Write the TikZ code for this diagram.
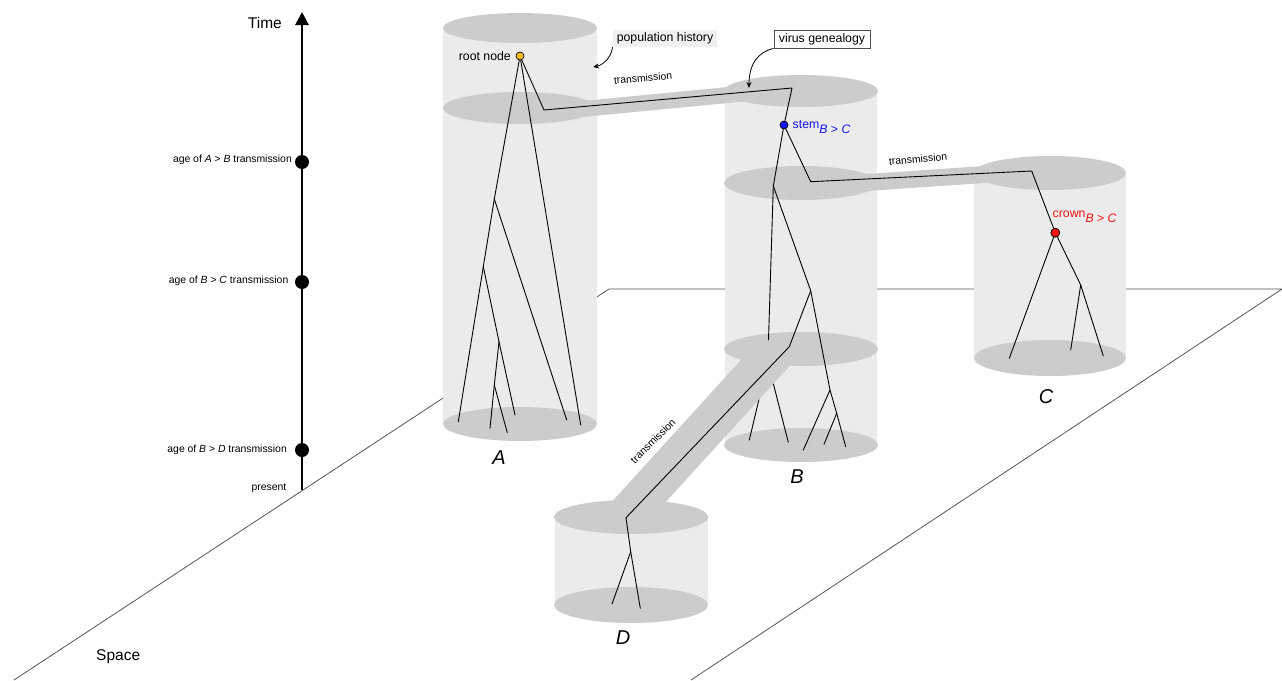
\documentclass[tikz,border=0pt]{standalone}
\usepackage{fontspec}
\setmainfont{Liberation Sans}
\usetikzlibrary{arrows.meta}
\definecolor{bodycol}{HTML}{EBEBEB}
\definecolor{disccol}{HTML}{CCCCCC}
\definecolor{floorcol}{HTML}{555555}
\definecolor{stemblue}{HTML}{1414F0}
\definecolor{crownred}{HTML}{F01414}
\definecolor{rootyellow}{HTML}{F2C218}
\definecolor{boxfill}{HTML}{F0F0F0}
\begin{document}
\begin{tikzpicture}[x=1pt,y=-1pt,
  floorline/.style={draw=floorcol, line width=0.8pt},
  cylbody/.style={fill=bodycol},
  discfill/.style={fill=disccol},
  bandstyle/.style={draw=disccol, line cap=butt},
  branch/.style={draw=black, line width=0.9pt, line cap=round, line join=round},
  timedot/.style={circle, fill=black, inner sep=0pt, minimum size=14pt},
  smalltext/.style={font=\fontsize{10.4}{12}\selectfont, inner sep=0pt},
  midtext/.style={font=\fontsize{12.3}{14}\selectfont},
  bigtext/.style={font=\fontsize{15.5}{18}\selectfont, inner sep=0pt},
  poplabel/.style={font=\fontsize{20}{24}\selectfont\itshape, inner sep=0pt},
  treedot/.style={circle, draw=black, line width=0.7pt, inner sep=0pt, minimum size=8pt},
  callout/.style={-{Stealth[length=6pt,width=5pt]}, line width=0.8pt},
]
\useasboundingbox (0,0) rectangle (1282,680);

% floor plane
\coordinate (fTL) at (609,289);
\coordinate (fTR) at (1282,289);
\coordinate (fBL) at (14,680);
\coordinate (fBR) at (691,680);
\draw[floorline] (fBL) -- (fTL) -- (fTR) -- (fBR);

% time axis
\coordinate (tPresent) at (302,490);
\coordinate (tTop) at (302,12);
\draw[line width=2.8pt, -{Triangle[length=13pt,width=13pt]}] (tPresent) -- (tTop);
\node[timedot] (dAB) at (302,162) {};
\node[timedot] (dBC) at (302,282) {};
\node[timedot] (dBD) at (302,450) {};
\node[bigtext, anchor=east] (timelbl) at (282,23) {Time};
\node[smalltext, anchor=east] (lAB) at (292,160) {age of \textit{A} > \textit{B} transmission};
\node[smalltext, anchor=east] (lBC) at (288.5,281) {age of \textit{B} > \textit{C} transmission};
\node[smalltext, anchor=east] (lBD) at (287,450) {age of \textit{B} > \textit{D} transmission};
\node[smalltext, anchor=east] (lPres) at (286.5,488.5) {present};
\node[bigtext, anchor=west] (spacelbl) at (96,657) {Space};

% cylinder A
\fill[cylbody] (443,28) rectangle (597,424);
\fill[discfill] (520,28) ellipse [x radius=77, y radius=15];
\fill[discfill] (520,108) ellipse [x radius=77, y radius=16];
\fill[discfill] (520,424) ellipse [x radius=77, y radius=17];
% cylinder B
\fill[cylbody] (725,91) rectangle (877,445);
\fill[discfill] (801,91) ellipse [x radius=77, y radius=16];
\fill[discfill] (801,183) ellipse [x radius=77, y radius=17];
\fill[discfill] (801,349) ellipse [x radius=77, y radius=17];
\fill[discfill] (801,445) ellipse [x radius=77, y radius=17];
% cylinder C
\fill[cylbody] (974,173) rectangle (1126,358);
\fill[discfill] (1050,173) ellipse [x radius=76, y radius=17];
\fill[discfill] (1050,358) ellipse [x radius=76, y radius=18];

% transmission bands A>B and B>C
\coordinate (abS) at (520,115);
\coordinate (abE) at (801,88);
\draw[bandstyle, line width=16pt] (abS) -- (abE);
\coordinate (bcS) at (801,187);
\coordinate (bcE) at (1050,170);
\draw[bandstyle, line width=17pt] (bcS) -- (bcE);

% cylinder D
\fill[cylbody] (555,517) rectangle (708,605);
\fill[discfill] (631,517) ellipse [x radius=77, y radius=17];
\fill[discfill] (631,605) ellipse [x radius=77, y radius=18];

% tree B part hidden by the B>D band
\coordinate (bN1) at (773.3,186);
\coordinate (bH) at (767.8,362);
\coordinate (bT3) at (749.3,440);
\coordinate (bT4) at (788.3,442.3);
\draw[branch] (bN1) -- (bH) -- (bT3);
\draw[branch] (bH) -- (bT4);

% transmission band B>D
\coordinate (bdS) at (778,349);
\coordinate (bdE) at (625,517);
\draw[bandstyle, line width=40pt] (bdS) -- (bdE);

% tree dots
\node[treedot, fill=rootyellow] (R) at (520,56) {};
\node[treedot, fill=stemblue] (S) at (784,125) {};
\node[treedot, fill=crownred, minimum size=9pt] (K) at (1055.3,232.7) {};

% tree A
\coordinate (aT) at (544,110);
\coordinate (bT) at (792,88);
\coordinate (n1) at (494.3,199);
\coordinate (n2) at (483.3,266.7);
\coordinate (n3) at (499,341.7);
\coordinate (n4) at (494.3,385);
\coordinate (t1) at (458.3,421.7);
\coordinate (t2) at (515,415);
\coordinate (t3) at (490,428.3);
\coordinate (t4) at (507.3,432.7);
\coordinate (t5) at (566.7,420);
\coordinate (t6) at (580.7,425);
\draw[branch] (R) -- (n1) -- (n2) -- (t1);
\draw[branch] (R) -- (t6);
\draw[branch] (n1) -- (t5);
\draw[branch] (n2) -- (n3) -- (t2);
\draw[branch] (n3) -- (n4) -- (t3);
\draw[branch] (n4) -- (t4);
\draw[branch] (R) -- (aT) -- (bT) -- (S);

% tree B
\coordinate (bC1) at (810.7,181.7);
\coordinate (cT) at (1031.7,171);
\coordinate (bN2) at (810.7,290.7);
\coordinate (bD) at (789.3,346.7);
\coordinate (bN3) at (830,390);
\coordinate (bN4) at (836.7,413.3);
\coordinate (bT5) at (803.3,450);
\coordinate (bT6) at (845.7,446.7);
\coordinate (bT7) at (824,444.3);
\coordinate (dT) at (626,517.7);
\draw[branch] (S) -- (bN1);
\draw[branch] (S) -- (bC1) -- (cT) -- (K);
\draw[branch] (bN1) -- (bN2) -- (bN3) -- (bN4) -- (bT6);
\draw[branch] (bN2) -- (bD) -- (dT);
\draw[branch] (bN3) -- (bT5);
\draw[branch] (bN4) -- (bT7);

% tree C
\coordinate (cN1) at (1080.7,285);
\coordinate (cT1) at (1009.3,358.3);
\coordinate (cT2) at (1070.7,350);
\coordinate (cT3) at (1103.3,356);
\draw[branch] (K) -- (cT1);
\draw[branch] (K) -- (cN1) -- (cT3);
\draw[branch] (cN1) -- (cT2);

% tree D
\coordinate (dN1) at (630.7,551.7);
\coordinate (dT1) at (612,604);
\coordinate (dT2) at (640.3,608.3);
\draw[branch] (dT) -- (dN1) -- (dT1);
\draw[branch] (dN1) -- (dT2);

% labels
\node[midtext, inner sep=0pt, anchor=base east] (rootlbl) at (511,60.5) {root node};
\node[midtext, inner sep=0pt, anchor=base west, text=stemblue] (stemlbl) at (792.5,128.5) {stem\raisebox{-5pt}{\textit{B} > \textit{C}}};
\node[midtext, inner sep=0pt, anchor=base west, text=crownred] (crownlbl) at (1052.5,217.5) {crown\raisebox{-5pt}{\textit{B} > \textit{C}}};
\node[smalltext, rotate=5] (trAB) at (643,78) {transmission};
\node[smalltext, rotate=5] (trBC) at (918,159) {transmission};
\node[smalltext, rotate=45] (trBD) at (653,441) {transmission};

\node[poplabel] (labA) at (499,458) {A};
\node[poplabel] (labB) at (797,477) {B};
\node[poplabel] (labC) at (1046,397) {C};
\node[poplabel] (labD) at (623,638) {D};

% callouts
\node[midtext, fill=boxfill, inner xsep=4pt, inner ysep=3pt] (pophist) at (665,38.3) {population history};
\node[midtext, draw=black!70, fill=white, line width=0.8pt, inner xsep=5pt, inner ysep=3pt] (virgen) at (822,39.3) {virus genealogy};
\coordinate (popEnd) at (593,67);
\coordinate (vgEnd) at (749,88);
\draw[callout] (pophist.south west) .. controls (611,58) and (603,65) .. (popEnd);
\draw[callout] (virgen.south west) .. controls (758,52) and (749,64) .. (vgEnd);
\end{tikzpicture}
\end{document}
